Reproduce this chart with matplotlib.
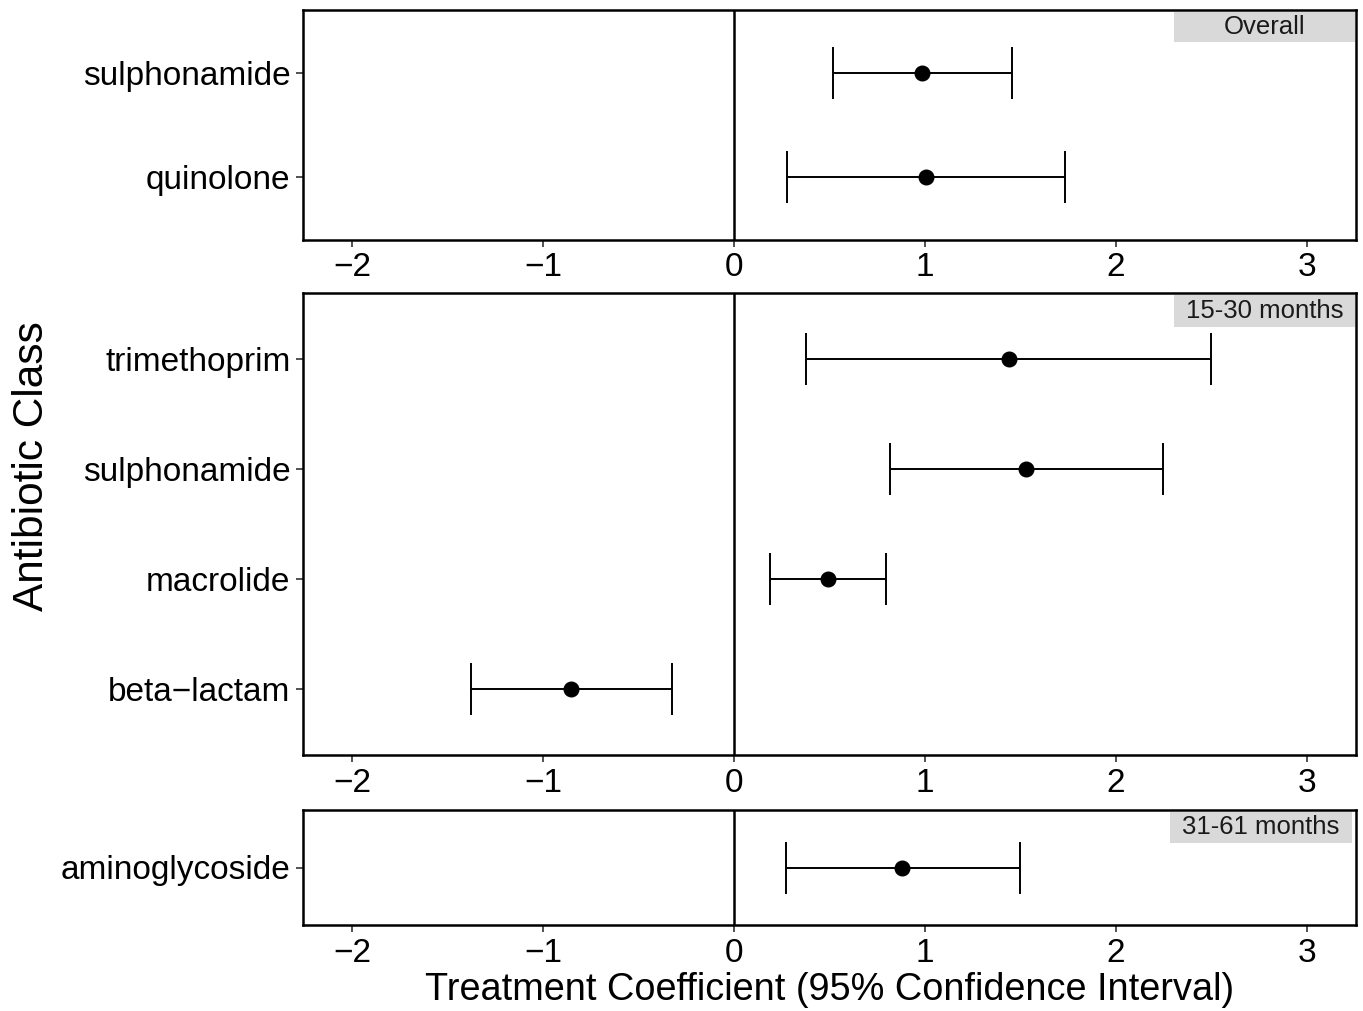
import matplotlib
matplotlib.use("Agg")
import matplotlib.pyplot as plt
from matplotlib.patches import Rectangle

plt.rcParams['font.family'] = ['Liberation Sans', 'DejaVu Sans']
plt.rcParams['axes.unicode_minus'] = True

# Panel data
panel_titles = ["Overall", "15-30 months", "31-61 months"]

overall_classes = ["quinolone", "sulphonamide"]
overall_est = [1.005, 0.984]
overall_lo = [0.277, 0.518]
overall_hi = [1.733, 1.455]

mid_classes = ["beta\u2212lactam", "macrolide", "sulphonamide", "trimethoprim"]
mid_est = [-0.853, 0.492, 1.529, 1.440]
mid_lo = [-1.377, 0.188, 0.817, 0.377]
mid_hi = [-0.325, 0.796, 2.246, 2.497]

late_classes = ["aminoglycoside"]
late_est = [0.880]
late_lo = [0.272]
late_hi = [1.497]

x_ticks = [-2, -1, 0, 1, 2, 3]
x_tick_labels = ["\u22122", "\u22121", "0", "1", "2", "3"]

W, H = 1363, 1011
fig = plt.figure(figsize=(W / 100, H / 100), dpi=100)

left_px, right_px = 303, 1356
panels_px = [(10, 240), (293, 755), (810, 925)]
# strip boxes in pixels: (x0, x1, y0, y1)
strips_px = [(1174, 1355, 12, 42), (1174, 1355, 295, 327), (1170, 1352, 812, 843)]

datasets = [
    (overall_classes, overall_est, overall_lo, overall_hi),
    (mid_classes, mid_est, mid_lo, mid_hi),
    (late_classes, late_est, late_lo, late_hi),
]

for (top, bot), (cls, est, lo, hi), title, (sx0, sx1, sy0, sy1) in zip(panels_px, datasets, panel_titles, strips_px):
    ax = fig.add_axes([left_px / W, 1 - bot / H, (right_px - left_px) / W, (bot - top) / H])
    y = list(range(1, len(cls) + 1))
    xerr = [[e - l for e, l in zip(est, lo)], [h - e for e, h in zip(est, hi)]]
    ax.axvline(0, color='black', lw=1.8, zorder=1)
    ax.errorbar(est, y, xerr=xerr, fmt='o', color='black', ms=10.5,
                elinewidth=1.4, capsize=19, capthick=1.4, zorder=3)
    ax.set_xlim(-2.257, 3.257)
    ax.set_ylim(0.4, len(cls) + 0.6)
    ax.set_yticks(y)
    ax.set_yticklabels(cls)
    ax.set_xticks(x_ticks)
    ax.set_xticklabels(x_tick_labels)
    ax.tick_params(axis='both', labelsize=24, colors='#333333', labelcolor='black',
                   length=5, width=1.2, direction='out', pad=4)
    for s in ax.spines.values():
        s.set_linewidth(1.8)
        s.set_color('black')
    # strip label box (fixed size, inside panel, top right)
    ph = bot - top
    pw = right_px - left_px
    rx0 = (sx0 - left_px) / pw
    rw = (sx1 - sx0) / pw
    ry0 = (bot - sy1) / ph
    rh = (sy1 - sy0) / ph
    ax.add_patch(Rectangle((rx0, ry0), rw, rh, transform=ax.transAxes,
                           facecolor='#d9d9d9', edgecolor='none', zorder=4))
    ax.text(rx0 + rw / 2, ry0 + rh / 2, title, transform=ax.transAxes,
            ha='center', va='center', fontsize=18.5, color='#1a1a1a', zorder=5)

fig.text(829.5 / W, 1 - 990 / H, "Treatment Coefficient (95% Confidence Interval)",
         ha='center', va='center', fontsize=27.3)
fig.text(32 / W, 1 - 466 / H, "Antibiotic Class", ha='center', va='center',
         rotation=90, fontsize=30.5)

fig.savefig("out.png", dpi=100)
